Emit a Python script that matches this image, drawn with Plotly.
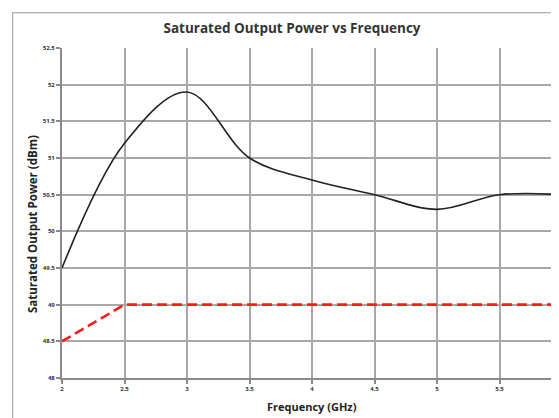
import plotly.graph_objects as go

freq = [2.0, 2.5, 3.0, 3.5, 4.0, 4.5, 5.0, 5.5, 6.0]
psat = [49.5, 51.2, 51.9, 51.0, 50.7, 50.5, 50.3, 50.5, 50.5]
spec_freq = [2.0, 2.5, 6.0]
spec_val = [48.5, 49.0, 49.0]
x_ticks = [2, 2.5, 3, 3.5, 4, 4.5, 5, 5.5, 6]
x_tick_labels = ["<b>2</b>", "<b>2.5</b>", "<b>3</b>", "<b>3.5</b>", "<b>4</b>",
                 "<b>4.5</b>", "<b>5</b>", "<b>5.5</b>", "<b>6</b>"]
y_ticks = [48, 48.5, 49, 49.5, 50, 50.5, 51, 51.5, 52, 52.5]
y_tick_labels = ["<b>48</b>", "<b>48.5</b>", "<b>49</b>", "<b>49.5</b>", "<b>50</b>",
                 "<b>50.5</b>", "<b>51</b>", "<b>51.5</b>", "<b>52</b>", "<b>52.5</b>"]

fig = go.Figure()
fig.add_trace(go.Scatter(x=freq, y=psat, mode="lines",
                         line=dict(color="#222222", width=1.6, shape="spline", smoothing=1.0),
                         showlegend=False))
fig.add_trace(go.Scatter(x=spec_freq, y=spec_val, mode="lines",
                         line=dict(color="#ff1a1a", width=2.6, dash="10px,5px"),
                         showlegend=False))

OFF = 8  # page body margin
W, H = 559 - OFF, 418 - OFF
L = 62 - OFF
T = 48 - OFF
B = H - (378 - OFF)
pw = W - L
ph = H - T - B

def px2paper_x(px):
    return (px - OFF - L) / pw

def px2paper_y(py):
    return (378 - py) / ph

tick_font = dict(family="Open Sans", size=6, color="#333333")
fig.update_layout(
    width=W, height=H,
    margin=dict(l=L, r=0, t=T, b=B),
    paper_bgcolor="white", plot_bgcolor="white",
    title=dict(text="<b>Saturated Output Power vs Frequency</b>", x=(292 - OFF) / W, xanchor="center",
               y=1 - (28 - OFF) / H, yanchor="middle",
               font=dict(family="Open Sans", size=13.5, color="#333333")),
    xaxis=dict(range=[2, 2 + pw / 125.0], tickvals=x_ticks, ticktext=x_tick_labels,
               showgrid=True, gridcolor="#a8a8a8", gridwidth=1.5,
               showline=True, linecolor="#8a8a8a", linewidth=2,
               ticks="outside", ticklen=4, tickcolor="#8a8a8a", tickwidth=1.5,
               tickfont=tick_font, zeroline=False),
    yaxis=dict(range=[48, 52.5], tickvals=y_ticks, ticktext=y_tick_labels,
               showgrid=True, gridcolor="#a8a8a8", gridwidth=1.5,
               showline=True, linecolor="#8a8a8a", linewidth=2,
               ticks="outside", ticklen=4, tickcolor="#8a8a8a", tickwidth=1.5,
               tickfont=tick_font, zeroline=False),
    annotations=[
        dict(text=" ", xref="paper", yref="paper",
             x=px2paper_x(12), y=px2paper_y(12), xanchor="left", yanchor="top",
             width=700, height=500, showarrow=False, borderpad=0,
             bordercolor="#b0b0b0", borderwidth=1.3),
        dict(text="<b>Saturated Output Power (dBm)</b>", xref="paper", yref="paper",
             x=px2paper_x(32), y=px2paper_y(224), textangle=-90, showarrow=False,
             font=dict(family="Open Sans", size=11.5, color="#222222"),
             xanchor="center", yanchor="middle"),
        dict(text="<b>Frequency (GHz)</b>", xref="paper", yref="paper",
             x=px2paper_x(312), y=px2paper_y(406), showarrow=False,
             font=dict(family="Open Sans", size=11, color="#222222"),
             xanchor="center", yanchor="middle"),
    ],
)

fig.write_html("out.html")
